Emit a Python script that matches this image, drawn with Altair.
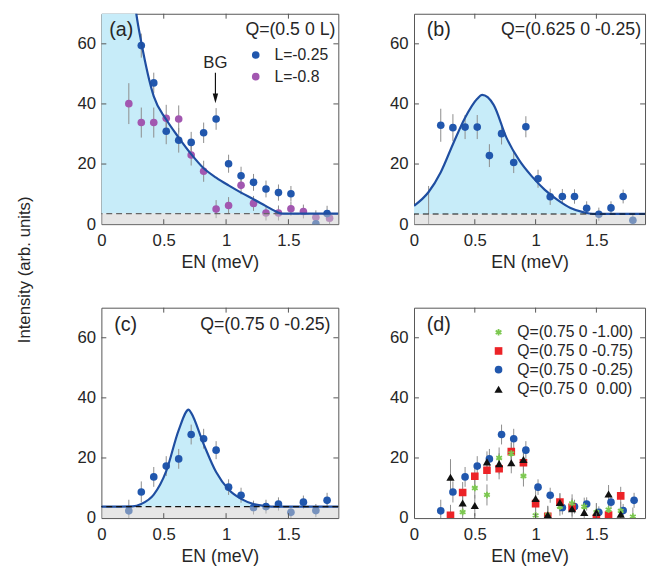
import altair as alt
import pandas as pd

# ---------------- data ----------------
E_TICKS = [0, 0.5, 1, 1.5]
I_TICKS = [0, 20, 40, 60]
E_INNER = [0.5, 1, 1.5]
I_INNER = [20, 40, 60]

# (a) Q=(0.5 0 L)
a_blue_E = [0.32, 0.42, 0.52, 0.62, 0.72, 0.82, 0.92, 1.02, 1.12, 1.22, 1.32, 1.42, 1.52, 1.72, 1.81]
a_blue_I = [59.4, 47.0, 30.9, 27.9, 27.2, 30.4, 35.0, 20.1, 16.1, 13.9, 11.7, 10.5, 10.1, 0.1, 3.5]
a_blue_err = [4.0, 3.4, 4.3, 4.1, 3.5, 3.4, 3.6, 3.0, 3.0, 2.8, 2.8, 2.7, 2.6, 2.0, 2.6]
a_purp_E = [0.22, 0.32, 0.42, 0.52, 0.62, 0.72, 0.82, 0.92, 1.02, 1.12, 1.22, 1.32, 1.42, 1.52, 1.62, 1.72, 1.83]
a_purp_I = [40.1, 33.8, 33.8, 35.2, 35.0, 23.0, 17.6, 5.0, 6.2, 12.9, 6.9, 3.7, 3.7, 5.1, 4.2, 2.3, 2.0]
a_purp_err = [6.8, 5.0, 5.0, 4.5, 4.5, 3.5, 3.5, 3.0, 2.8, 3.0, 2.5, 2.5, 2.5, 2.3, 2.3, 2.3, 2.5]
a_curve_E = [0.0, 0.20, 0.25, 0.28, 0.32, 0.42, 0.52, 0.62, 0.72, 0.82, 0.92, 1.02, 1.12, 1.22, 1.32, 1.40, 1.45, 1.9]
a_curve_I = [250, 105, 80, 70, 60.5, 42.5, 34.8, 28.8, 23.3, 18.6, 15.5, 12.9, 10.5, 8.3, 6.0, 4.2, 3.5, 3.5]
a_bg = 3.5

# (b) Q=(0.625 0 -0.25)
b_E = [0.12, 0.22, 0.32, 0.42, 0.52, 0.62, 0.72, 0.82, 0.92, 1.02, 1.12, 1.22, 1.32, 1.42, 1.52, 1.62, 1.72, 1.80]
b_I = [-3.0, 32.9, 32.1, 32.3, 32.3, 22.8, 30.1, 20.5, 32.4, 15.1, 9.1, 9.2, 9.2, 5.3, 3.3, 5.4, 9.2, 1.3]
b_err = [15.7, 5.5, 4.5, 4.0, 4.0, 3.8, 3.6, 3.5, 3.5, 3.0, 2.7, 2.5, 2.4, 2.3, 2.2, 2.2, 2.3, 2.0]
b_curve_E = [0.0, 0.12, 0.22, 0.32, 0.42, 0.52, 0.56, 0.655, 0.76, 0.866, 0.971, 1.076, 1.18, 1.287, 1.39, 1.47, 1.9]
b_curve_I = [6.1, 10.7, 17.3, 26.6, 35.4, 41.7, 43.0, 39.7, 28.8, 21.2, 15.8, 11.4, 8.1, 5.4, 4.0, 3.4, 3.4]
b_bg = 3.4

# (c) Q=(0.75 0 -0.25)
c_E = [0.22, 0.32, 0.42, 0.52, 0.62, 0.72, 0.82, 0.92, 1.02, 1.12, 1.22, 1.32, 1.42, 1.52, 1.62, 1.72, 1.81]
c_I = [2.4, 8.7, 13.7, 17.3, 19.7, 27.8, 26.4, 22.6, 10.3, 7.6, 3.5, 3.8, 4.7, 1.9, 5.3, 2.5, 5.9]
c_err = [3.7, 3.5, 3.3, 3.3, 3.3, 3.3, 3.3, 3.0, 2.6, 2.5, 2.3, 2.3, 2.2, 2.0, 2.2, 2.2, 2.5]
c_curve_E = [0.0, 0.25, 0.32, 0.42, 0.52, 0.62, 0.70, 0.72, 0.82, 0.92, 1.02, 1.12, 1.22, 1.32, 1.40, 1.9]
c_curve_I = [3.8, 3.9, 4.7, 7.8, 15.6, 29.3, 36.1, 35.0, 24.6, 15.3, 9.5, 6.4, 4.7, 4.0, 3.8, 3.8]
c_bg = 3.8

# (d) four Q values at E along H=0.75
d_g_E = [0.4, 0.5, 0.6, 0.7, 0.8, 0.9, 1.0, 1.1, 1.2, 1.3, 1.4, 1.5, 1.6, 1.7, 1.8]
d_g_I = [2.0, 10.0, 7.7, 20.0, 21.5, 14.0, 0.9, 1.0, 3.8, 4.9, 3.8, 2.0, 2.8, 2.4, 0.5]
d_g_err = [3.0, 3.5, 3.5, 3.5, 3.5, 3.5, 3.0, 3.0, 3.0, 3.0, 3.0, 3.0, 3.0, 3.0, 3.0]
d_r_E = [0.3, 0.4, 0.5, 0.6, 0.7, 0.8, 0.9, 1.0, 1.1, 1.2, 1.3, 1.5, 1.6, 1.7]
d_r_I = [0.9, 8.5, 13.9, 15.9, 16.4, 22.1, 18.4, 4.8, 0.6, 5.3, 3.6, 0.0, 1.0, 7.4]
d_r_err = [3.5, 3.5, 3.5, 3.5, 3.5, 3.5, 3.5, 3.0, 3.0, 3.0, 3.0, 3.0, 3.0, 3.0]
d_k_E = [0.3, 0.4, 0.5, 0.6, 0.7, 0.8, 0.9, 1.0, 1.1, 1.2, 1.3, 1.4, 1.5, 1.6, 1.7]
d_k_I = [13.6, 5.0, 4.2, 18.7, 18.1, 18.4, 19.5, 6.5, 1.1, 5.2, 3.1, 1.9, 1.9, 8.0, 1.3]
d_k_err = [6.0, 3.5, 3.5, 3.5, 3.5, 3.5, 3.5, 3.0, 3.0, 3.0, 3.0, 3.0, 3.0, 3.0, 3.0]

# ---------------- styles ----------------
FONT = "Liberation Sans"
TXT = "#262626"
FRAME = "#555555"
FILL = "#c7ecf9"
CURVE = "#1f4ea1"
BLUE = "#2157ad"
PURPLE = "#a257b0"
RED = "#ec2327"
GREEN = "#7cc850"
BLACK = "#111111"
ERR = "#8c8c8c"
BAND = "#cdcdcd"
STAR = "M0,-1L0,1M-0.87,-0.5L0.87,0.5M-0.87,0.5L0.87,-0.5"
H = 214
W_LEFT = 241
W_RIGHT = 235

XS = alt.Scale(domain=[0, 1.9], nice=False, zero=False)
YS = alt.Scale(domain=[0, 70], nice=False, zero=False)
XAXIS = alt.Axis(title="EN (meV)", values=E_TICKS, format="~g", labelFlush=False,
                 labelPadding=9, titlePadding=5, ticks=False, domain=False, grid=False,
                 labelFontSize=17, titleFontSize=18, labelColor=TXT, titleColor=TXT,
                 titleFontWeight="normal", labelOverlap=False)


def yaxis(with_title):
    kw = dict(values=I_TICKS, format="d", labelPadding=6, ticks=False, domain=False,
              grid=False, labelFontSize=17, labelColor=TXT, labelOverlap=False)
    if with_title:
        return alt.Axis(title="Intensity (arb. units)", titleX=-78, titleY=260,
                        titleAngle=270, titleAlign="center", titleBaseline="middle",
                        titleFontSize=17, titleFontWeight="normal", titleColor=TXT, **kw)
    return alt.Axis(title=None, **kw)


def sdf(E, I, err):
    return pd.DataFrame({"E": E, "I": I,
                         "lo": [i - e for i, e in zip(I, err)],
                         "hi": [i + e for i, e in zip(I, err)]})


ONE = pd.DataFrame({"k": [0]})


def panel(width, series, ytitle=False, curve=None, bg=None, dash_color=BLACK,
          dash_top=True, texts=(), symbols=(), rules=()):
    YAX = yaxis(ytitle)
    X = lambda f: alt.X(f"{f}:Q", scale=XS, axis=XAXIS)
    Y = lambda f: alt.Y(f"{f}:Q", scale=YS, axis=YAX)
    layers = []
    if curve is not None:
        cdf = pd.DataFrame({"E": curve[0], "I": curve[1]})
        layers.append(alt.Chart(cdf).mark_area(color=FILL, interpolate="monotone", clip=True)
                      .encode(x=X("E"), y=Y("I"), y2=alt.datum(bg)))
    for df, st in series:
        layers.append(alt.Chart(df).mark_rule(color=ERR, strokeWidth=1, clip=True)
                      .encode(x=X("E"), y=Y("lo"), y2=alt.Y2("hi")))
    for df, st in series:
        layers.append(alt.Chart(df).mark_point(opacity=1, clip=True, **st)
                      .encode(x=X("E"), y=Y("I")))
    if bg is not None:
        band = pd.DataFrame({"x0": [0], "x1": [1.9], "y0": [0], "y1": [bg]})
        layers.append(alt.Chart(band).mark_rect(color=BAND, opacity=0.5)
                      .encode(x=X("x0"), x2=alt.X2("x1"), y=Y("y0"), y2=alt.Y2("y1")))
        dash = (alt.Chart(pd.DataFrame({"b": [bg]}))
                .mark_rule(color=dash_color, strokeDash=[6, 4], strokeWidth=1.1)
                .encode(y=Y("b")))
        line = (alt.Chart(pd.DataFrame({"E": curve[0], "I": curve[1]}))
                .mark_line(color=CURVE, strokeWidth=2.2, interpolate="monotone", clip=True)
                .encode(x=X("E"), y=Y("I")))
        layers += [line, dash] if dash_top else [dash, line]
    # inward ticks on all four sides
    xt = pd.DataFrame({"t": E_INNER})
    yt = pd.DataFrame({"t": I_INNER})
    layers.append(alt.Chart(xt).mark_rule(color=FRAME)
                  .encode(x=X("t"), y=alt.value(H), y2=alt.value(H - 5)))
    layers.append(alt.Chart(xt).mark_rule(color=FRAME)
                  .encode(x=X("t"), y=alt.value(0), y2=alt.value(5)))
    layers.append(alt.Chart(yt).mark_rule(color=FRAME)
                  .encode(y=Y("t"), x=alt.value(0), x2=alt.value(5)))
    layers.append(alt.Chart(yt).mark_rule(color=FRAME)
                  .encode(y=Y("t"), x=alt.value(width), x2=alt.value(width - 5)))
    for (rx, ry1, ry2) in rules:
        layers.append(alt.Chart(ONE).mark_rule(color=BLACK, strokeWidth=1.2)
                      .encode(x=alt.value(rx), y=alt.value(ry1), y2=alt.value(ry2)))
    for (tx, ty, txt, size, align) in texts:
        layers.append(alt.Chart(ONE).mark_text(font=FONT, fontSize=size, color=TXT,
                                               align=align, baseline="middle")
                      .encode(x=alt.value(tx), y=alt.value(ty), text=alt.value(txt)))
    for (sx, sy, st) in symbols:
        layers.append(alt.Chart(ONE).mark_point(opacity=1, **st)
                      .encode(x=alt.value(sx), y=alt.value(sy)))
    return alt.layer(*layers).properties(width=width, height=H)


circ = lambda c: dict(shape="circle", filled=True, size=60, color=c)
sq = dict(shape="square", filled=True, size=60, color=RED)
tri = dict(shape="triangle-up", filled=True, size=70, color=BLACK)
star = dict(shape=STAR, filled=False, size=45, strokeWidth=1.8, color=GREEN)

pa = panel(W_LEFT,
           [(sdf(a_purp_E, a_purp_I, a_purp_err), circ(PURPLE)),
            (sdf(a_blue_E, a_blue_I, a_blue_err), circ(BLUE))],
           ytitle=True, curve=(a_curve_E, a_curve_I), bg=a_bg, dash_color="#666666",
           dash_top=False,
           texts=[(8, 17, "(a)", 20, "left"), (238, 17, "Q=(0.5 0 L)", 18, "right"),
                  (176, 42, "L=-0.25", 16, "left"), (176, 64, "L=-0.8", 16, "left"),
                  (116, 50, "BG", 17, "center")],
           symbols=[(157, 42, circ(BLUE)), (157, 64, circ(PURPLE)),
                    (116, 86, dict(shape="M-0.55,-1L0.55,-1L0,1Z", filled=True, size=100,
                                   color=BLACK))],
           rules=[(116, 60, 86)])

pb = panel(W_RIGHT, [(sdf(b_E, b_I, b_err), circ(BLUE))],
           curve=(b_curve_E, b_curve_I), bg=b_bg,
           texts=[(13, 17, "(b)", 20, "left"), (231, 17, "Q=(0.625 0 -0.25)", 18, "right")])

pc = panel(W_LEFT, [(sdf(c_E, c_I, c_err), circ(BLUE))],
           curve=(c_curve_E, c_curve_I), bg=c_bg,
           texts=[(13, 18, "(c)", 20, "left"), (233, 18, "Q=(0.75 0 -0.25)", 18, "right")])

pd_ = panel(W_RIGHT,
            [(sdf(c_E, c_I, c_err), circ(BLUE)),
             (sdf(d_r_E, d_r_I, d_r_err), sq),
             (sdf(d_g_E, d_g_I, d_g_err), star),
             (sdf(d_k_E, d_k_I, d_k_err), tri)],
            texts=[(13, 18, "(d)", 20, "left"),
                   (105, 25, "Q=(0.75 0 -1.00)", 16, "left"),
                   (105, 44, "Q=(0.75 0 -0.75)", 16, "left"),
                   (105, 63, "Q=(0.75 0 -0.25)", 16, "left"),
                   (105, 83, "Q=(0.75 0\u00a0\u00a00.00)", 16, "left")],
            symbols=[(86, 25, star), (86, 44, sq), (86, 63, circ(BLUE)), (86, 83, tri)])

chart = (alt.concat(pa, pb, pc, pd_, columns=2, spacing={"row": 85, "column": 77},
                    bounds="flush")
         .properties(padding={"left": 7, "top": 0, "right": 0, "bottom": 2})
         .configure(font=FONT)
         .configure_view(stroke=FRAME, strokeWidth=1))

chart.save("out.html", embed_options={"renderer": "svg", "actions": False})
